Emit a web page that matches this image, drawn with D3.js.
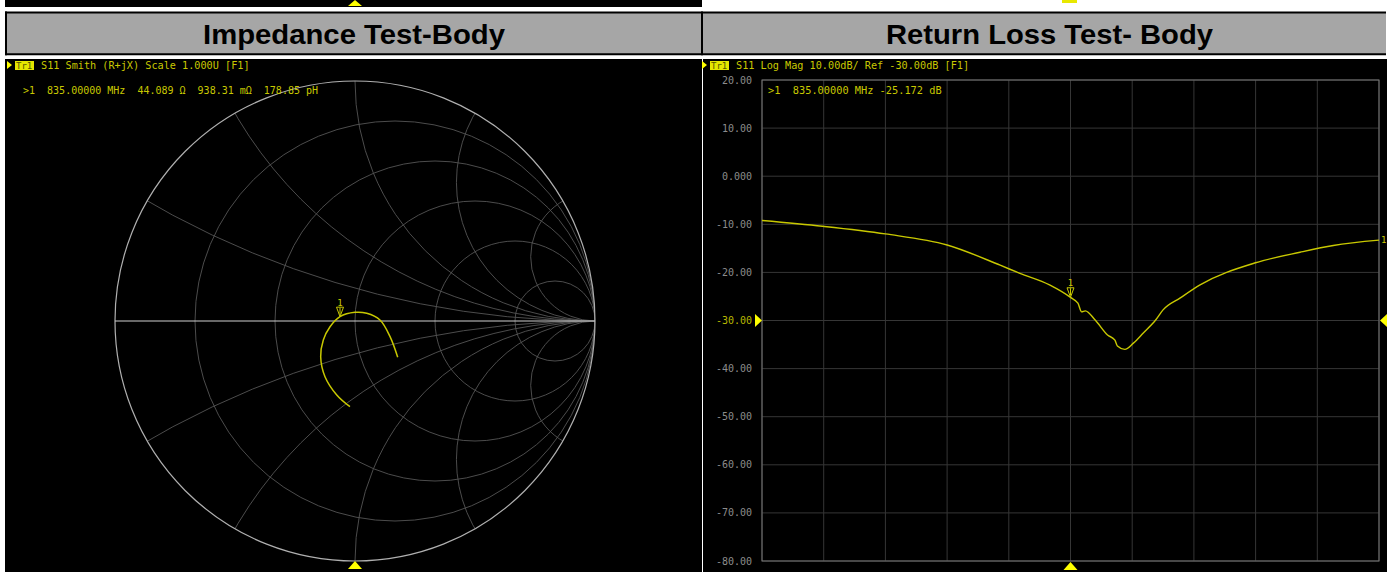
<!DOCTYPE html>
<html>
<head>
<meta charset="utf-8">
<script src="https://cdn.jsdelivr.net/npm/d3@7"></script>
<style>
  html, body { margin: 0; padding: 0; background: #fff; }
  svg { display: block; }
  text { white-space: pre; }
</style>
</head>
<body>
<svg id="chart"></svg>
<script>
// ---- data ----
const titles = ['Impedance Test-Body', 'Return Loss Test- Body'];

// Smith chart trace, reflection coefficient (real, imag), start -> stop
const smithRe = [-0.021, -0.076, -0.125, -0.143, -0.132, -0.104, -0.0625, 0.0, 0.049, 0.104, 0.146, 0.178];
const smithIm = [-0.357, -0.308, -0.232, -0.149, -0.079, -0.024, 0.018, 0.036, 0.032, 0.004, -0.065, -0.151];
const smithMarkerIdx = 6;
const rCircles = [0.2, 0.5, 1, 2, 5];
const xArcs = [0.268, 0.577, 1, 1.732, 3.732];

// return loss trace
const rlFreq = [585, 634, 685, 735, 778, 794, 818, 835, 841, 844, 847, 855, 865, 871, 873, 879, 886, 894, 904, 910, 924, 940, 985, 1021, 1048, 1085];
const rlDb = [-9.2, -10.4, -12.0, -14.3, -18.5, -20.2, -22.6, -25.2, -26.4, -28.2, -28.0, -29.9, -33.0, -34.1, -35.3, -36.0, -34.7, -32.6, -29.9, -27.8, -25.3, -22.6, -18.0, -15.8, -14.4, -13.3];
const rlTicks = [20, 10, 0, -10, -20, -30, -40, -50, -60, -70, -80];
const rlTickLabels = ['20.00', '10.00', '0.000', '-10.00', '-20.00', '-30.00', '-40.00', '-50.00', '-60.00', '-70.00', '-80.00'];
const markerFreq = 835, markerDb = -25.172;

const smithHeader = 'S11 Smith (R+jX) Scale 1.000U [F1]';
const smithMarkerText = '>1  835.00000 MHz  44.089 \u03a9  938.31 m\u03a9  178.85 pH';
const rlHeader = 'S11 Log Mag 10.00dB/ Ref -30.00dB [F1]';
const rlMarkerText = '>1  835.00000 MHz -25.172 dB';

// ---- setup ----
const W = 1394, H = 572;
const svg = d3.select('#chart').attr('width', W).attr('height', H);
const mono = 'DejaVu Sans Mono, monospace';
const yel = '#c8c800';

svg.append('rect').attr('width', W).attr('height', H).attr('fill', '#fff');

// panel frames
svg.append('rect').attr('x', 5).attr('y', 0).attr('width', 697).attr('height', 7).attr('fill', '#000');
svg.append('rect').attr('x', 5).attr('y', 59).attr('width', 697).attr('height', H - 59).attr('fill', '#000');
svg.append('rect').attr('x', 703).attr('y', 59).attr('width', 684).attr('height', H - 59).attr('fill', '#000');

// title bars
[[6, 696, 354, 302], [703, 683, 1049.5, 327]].forEach(([x, w, cx, tl], i) => {
  svg.append('rect').attr('x', x).attr('y', 12.5).attr('width', w).attr('height', 42)
    .attr('fill', '#a6a6a6');
  svg.append('line').attr('x1', x - 1).attr('x2', x + w).attr('y1', 12.5).attr('y2', 12.5)
    .attr('stroke', '#000').attr('stroke-width', 2);
  svg.append('line').attr('x1', x - 1).attr('x2', x + w).attr('y1', 54.3).attr('y2', 54.3)
    .attr('stroke', '#000').attr('stroke-width', 2);
  svg.append('text').text(titles[i]).attr('x', cx).attr('y', 44)
    .attr('text-anchor', 'middle').attr('font-family', 'Liberation Sans, Arial, sans-serif')
    .attr('font-weight', 'bold').attr('font-size', '28px').attr('fill', '#000')
    .attr('textLength', tl).attr('lengthAdjust', 'spacingAndGlyphs');
});
svg.append('line').attr('x1', 6).attr('x2', 6).attr('y1', 11.5).attr('y2', 55.3)
  .attr('stroke', '#000').attr('stroke-width', 2);
svg.append('line').attr('x1', 702).attr('x2', 702).attr('y1', 11.5).attr('y2', 55.3)
  .attr('stroke', '#000').attr('stroke-width', 2);

// top marker bits
svg.append('path').attr('d', 'M348,6 L355,0 L362,6 Z').attr('fill', '#ffff00');
svg.append('rect').attr('x', 1062).attr('y', 0).attr('width', 15).attr('height', 3).attr('fill', '#e8e800');

// trace header line helper
function traceHeader(x0, label) {
  svg.append('path').attr('d', `M${x0},61 L${x0 + 5},65 L${x0},69 Z`).attr('fill', '#ffff00');
  svg.append('rect').attr('x', x0 + 8).attr('y', 61).attr('width', 19).attr('height', 9).attr('fill', '#e6e600');
  svg.append('text').text('Tr1').attr('x', x0 + 9).attr('y', 68.5)
    .attr('font-family', mono).attr('font-size', '9px').attr('fill', '#555500');
  svg.append('text').text(label).attr('x', x0 + 34).attr('y', 68.5)
    .attr('font-family', mono).attr('font-size', '10.2px').attr('fill', yel);
}
traceHeader(7, smithHeader);
traceHeader(702, rlHeader);

// ---- Smith chart ----
const sx = d3.scaleLinear().domain([-1, 1]).range([115, 595]);
const sy = d3.scaleLinear().domain([-1, 1]).range([561, 81]);
const R = sx(1) - sx(0);

svg.append('clipPath').attr('id', 'unit').append('circle')
  .attr('cx', sx(0)).attr('cy', sy(0)).attr('r', R);

const sg = svg.append('g').attr('clip-path', 'url(#unit)');
sg.selectAll('.rc').data(rCircles).enter().append('circle')
  .attr('class', 'rc')
  .attr('cx', d => sx(d / (1 + d))).attr('cy', sy(0)).attr('r', d => R / (1 + d))
  .attr('fill', 'none').attr('stroke', '#555').attr('stroke-width', 0.9);
const xAll = xArcs.concat(xArcs.map(d => -d));
sg.selectAll('.xc').data(xAll).enter().append('circle')
  .attr('class', 'xc')
  .attr('cx', sx(1)).attr('cy', d => sy(1 / d)).attr('r', d => R / Math.abs(d))
  .attr('fill', 'none').attr('stroke', '#555').attr('stroke-width', 0.9);

svg.append('circle').attr('cx', sx(0)).attr('cy', sy(0)).attr('r', R)
  .attr('fill', 'none').attr('stroke', '#b0b0b0').attr('stroke-width', 1.2);
svg.append('line').attr('x1', sx(-1)).attr('x2', sx(1)).attr('y1', sy(0)).attr('y2', sy(0))
  .attr('stroke', '#d0d0d0').attr('stroke-width', 1.2);

const smithPts = smithRe.map((re, i) => [re, smithIm[i]]);
svg.append('path').datum(smithPts)
  .attr('d', d3.line().x(d => sx(d[0])).y(d => sy(d[1])).curve(d3.curveCatmullRom))
  .attr('fill', 'none').attr('stroke', yel).attr('stroke-width', 1.5);

function markerGlyph(px, py) {
  svg.append('path').attr('d', `M${px - 3.5},${py - 9.5} L${px + 3.5},${py - 9.5} L${px},${py} Z`)
    .attr('fill', 'none').attr('stroke', yel).attr('stroke-width', 1);
  svg.append('line').attr('x1', px).attr('x2', px).attr('y1', py - 9).attr('y2', py - 2)
    .attr('stroke', yel).attr('stroke-width', 1);
  svg.append('text').text('1').attr('x', px).attr('y', py - 11).attr('text-anchor', 'middle')
    .attr('font-family', mono).attr('font-size', '9px').attr('fill', yel);
}
markerGlyph(sx(smithRe[smithMarkerIdx]), sy(smithIm[smithMarkerIdx]));

svg.append('text').text(smithMarkerText).attr('x', 23).attr('y', 93.5)
  .attr('font-family', mono).attr('font-size', '10px').attr('fill', yel);

svg.append('path').attr('d', `M348,569 L355,561 L362,569 Z`).attr('fill', '#ffff00');

// ---- Return loss chart ----
const x = d3.scaleLinear().domain([585, 1085]).range([762, 1379]);
const y = d3.scaleLinear().domain([-80, 20]).range([561, 80]);

const grid = svg.append('g');
grid.selectAll('.vg').data(d3.range(585, 1086, 50)).enter().append('line')
  .attr('x1', d => x(d)).attr('x2', d => x(d)).attr('y1', y(20)).attr('y2', y(-80))
  .attr('stroke', '#363636').attr('stroke-width', 1);
grid.selectAll('.hg').data(rlTicks).enter().append('line')
  .attr('x1', x(585)).attr('x2', x(1085)).attr('y1', d => y(d)).attr('y2', d => y(d))
  .attr('stroke', '#363636').attr('stroke-width', 1);
svg.append('rect').attr('x', x(585)).attr('y', y(20))
  .attr('width', x(1085) - x(585)).attr('height', y(-80) - y(20))
  .attr('fill', 'none').attr('stroke', '#777').attr('stroke-width', 1);

svg.selectAll('.ylab').data(rlTicks).enter().append('text')
  .text((d, i) => rlTickLabels[i])
  .attr('x', 752).attr('y', d => y(d) + 3.5).attr('text-anchor', 'end')
  .attr('font-family', mono).attr('font-size', '10px')
  .attr('fill', d => d === -30 ? '#b8b800' : '#8c8c8c');

const rlPts = rlFreq.map((f, i) => [f, rlDb[i]]);
svg.append('path').datum(rlPts)
  .attr('d', d3.line().x(d => x(d[0])).y(d => y(d[1])).curve(d3.curveMonotoneX))
  .attr('fill', 'none').attr('stroke', yel).attr('stroke-width', 1.4);

markerGlyph(x(markerFreq), y(markerDb));
svg.append('text').text('1').attr('x', x(1085) + 2).attr('y', y(rlDb[rlDb.length - 1]) + 3)
  .attr('font-family', mono).attr('font-size', '9px').attr('fill', yel);

svg.append('text').text(rlMarkerText).attr('x', 768).attr('y', 93.5)
  .attr('font-family', mono).attr('font-size', '10.3px').attr('fill', yel);

// reference and stimulus markers
svg.append('path').attr('d', `M755,${y(-30) - 6.5} L762,${y(-30)} L755,${y(-30) + 6.5} Z`).attr('fill', '#ffff00');
svg.append('path').attr('d', `M1387,${y(-30) - 6.5} L1380,${y(-30)} L1387,${y(-30) + 6.5} Z`).attr('fill', '#ffff00');
svg.append('path').attr('d', `M${x(835) - 7},570 L${x(835)},562 L${x(835) + 7},570 Z`).attr('fill', '#ffff00');
</script>
</body>
</html>
